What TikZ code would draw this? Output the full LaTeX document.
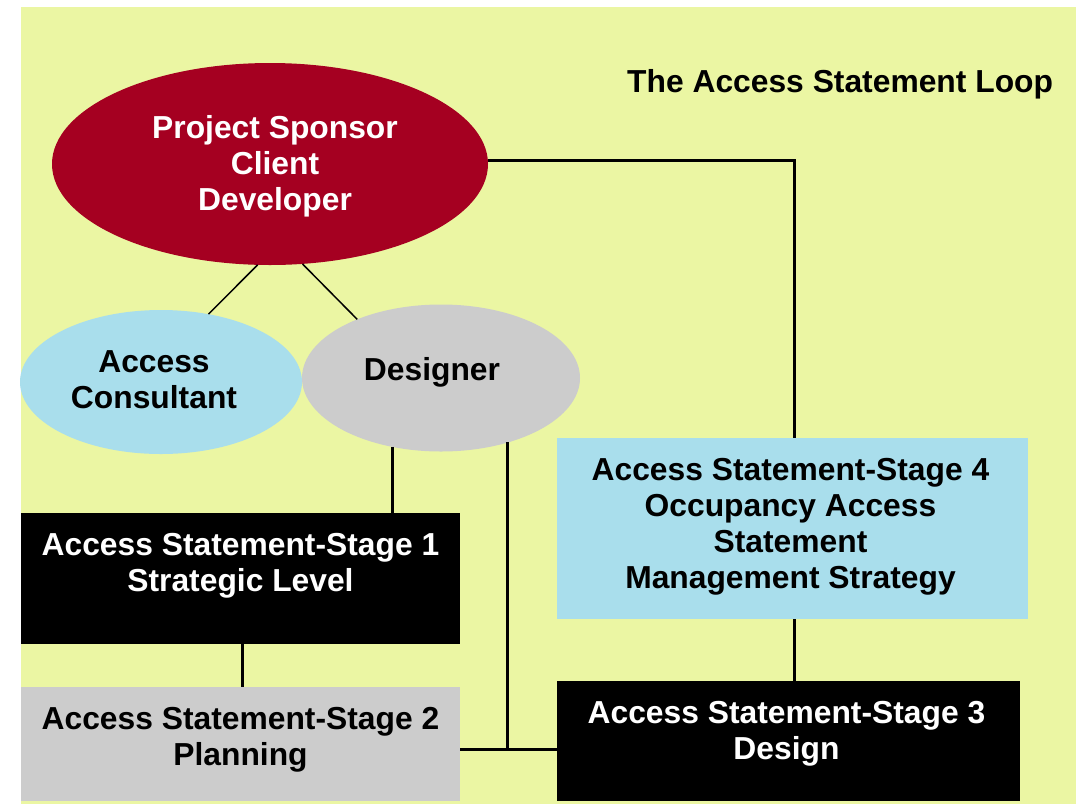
\documentclass[tikz,border=0pt]{standalone}
\usepackage{fontspec}
\setmainfont{Liberation Sans}
\usetikzlibrary{shapes.geometric}
\definecolor{bgyel}{RGB}{235,246,163}
\definecolor{spred}{RGB}{165,0,33}
\definecolor{lblue}{RGB}{169,222,236}
\definecolor{lgrey}{RGB}{204,204,204}
\tikzset{
  txt/.style = {align=center, inner sep=0pt, text centered,
    font=\bfseries\fontsize{31.8}{36}\selectfont},
  ell_r/.style = {ellipse, fill=spred, outer sep=0pt,
    minimum width=436pt, minimum height=202pt},% sponsor, rouge
  ell_b/.style = {ellipse, fill=lblue, outer sep=0pt,
    minimum width=282pt, minimum height=144pt},% consultant, bleu
  ell_g/.style = {ellipse, fill=lgrey, outer sep=0pt,
    minimum width=278pt, minimum height=147pt},% designer, gris
  stg/.style = {rectangle, inner sep=0pt, outer sep=0pt},
  stg_k/.style = {stg, fill=black},% stage noir
  stg_g/.style = {stg, fill=lgrey},% stage gris
  stg_b/.style = {stg, fill=lblue},% stage bleu
  stgtxt/.style = {txt, anchor=north, yshift=-20pt},
  link/.style = {draw=black, line width=3pt},
  thin_link/.style = {draw=black, line width=1.5pt}
}
\begin{document}
\begin{tikzpicture}[x=1pt, y=-1pt]
\fill[white] (0,0) rectangle (1076,804);
\fill[bgyel] (21,7) rectangle (1076,804);
\node [txt, anchor=base west] (ttl) at (627,92) {The Access Statement Loop};
\node [ell_r, label={[txt, white, xshift=5pt, yshift=-2pt]center:{Project Sponsor\\Client\\Developer}}] (spon) at (270,164) {};
\node [ell_b, label={[txt, xshift=-7pt, yshift=2pt]center:{Access\\Consultant}}] (cons) at (161,382) {};
\node [ell_g, label={[txt, xshift=-9pt, yshift=6pt]center:{Designer}}] (des) at (441,378) {};
\node [stg_k, minimum width=439pt, minimum height=131pt,
  label={[stgtxt, white]north:{Access Statement-Stage 1\\Strategic Level}}] (s1) at (240.5,578.5) {};
\node [stg_g, minimum width=439pt, minimum height=114pt,
  label={[stgtxt]north:{Access Statement-Stage 2\\Planning}}] (s2) at (240.5,744) {};
\node [stg_k, minimum width=463pt, minimum height=120pt,
  label={[stgtxt, white, xshift=-2pt]north:{Access Statement-Stage 3\\Design}}] (s3) at (788.5,741) {};
\node [stg_b, minimum width=471pt, minimum height=181pt,
  label={[stgtxt, xshift=-2pt]north:{Access Statement-Stage 4\\Occupancy Access\\Statement\\Management Strategy}}] (s4) at (792.5,528.5) {};
\coordinate (jn) at (508,749);
% liens
\draw[thin_link] (spon.-97) -- (cons.55);
\draw[thin_link] (spon.-72) -- (des.145);
\draw[link] ([yshift=4pt]spon.east) -| ([xshift=2pt]s4.north);
\draw[link] (des.-125) -- (des.-125 |- s1.north);
\draw[link] (des.-44) -- (des.-44 |- jn);
\draw[link] (s2.east |- jn) -- (s3.west |- jn);
\draw[link] ([xshift=2pt]s1.south) -- ([xshift=2pt]s2.north);
\draw[link] ([xshift=2pt]s4.south) -- ([xshift=2pt]s4.south |- s3.north);
\end{tikzpicture}
\end{document}
